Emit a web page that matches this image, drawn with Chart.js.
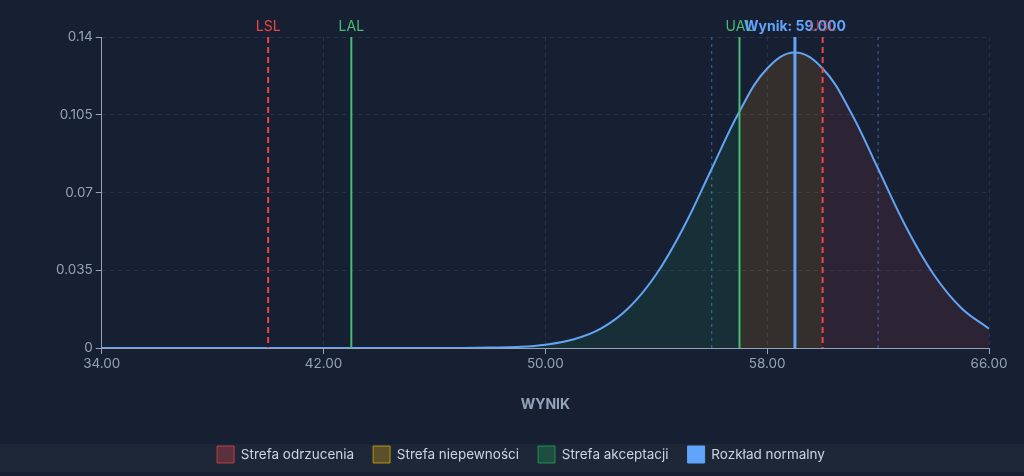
<!DOCTYPE html>
<html>
<head>
<meta charset="utf-8">
<script src="https://cdn.jsdelivr.net/npm/chart.js@4.4.1/dist/chart.umd.min.js"></script>
<style>
  html, body { margin: 0; padding: 0; background: #172033; }
  #wrap { position: relative; width: 1024px; height: 476px; }
  #strip { position: absolute; left: 0; top: 444px; width: 1024px; height: 28px; background: #1d2738; }
  #chart { position: absolute; left: 0; top: 0; }
</style>
</head>
<body>
<div id="wrap">
  <div id="strip"></div>
  <canvas id="chart" width="1024" height="476"></canvas>
</div>
<script>
// x values (Wynik) and the density
const xValues = [34, 35, 36, 37, 38, 39, 40, 41, 42, 43, 44, 45, 46, 47, 48, 49, 50,
  51, 52, 53, 54, 55, 56, 57, 58, 59, 60, 61, 62, 63, 64, 65, 66];
const density = [0, 0, 0, 0, 0, 0, 0, 0, 0, 0, 0, 0, 0, 0.00004, 0.0002, 0.0005, 0.0015,
  0.0038, 0.0087, 0.018, 0.0332, 0.0547, 0.0807, 0.1065, 0.1258, 0.133, 0.1258,
  0.1065, 0.0807, 0.0547, 0.0332, 0.018, 0.0087];

const limitLabels = ['LSL', 'LAL', 'UAL', 'USL'];
const limitValues = [40, 43, 57, 60];
const resultValue = 59;
const sigmaLines = [56, 62];

const xTicks = [34, 42, 50, 58, 66];
const yTicks = [0, 0.035, 0.07, 0.105, 0.14];

const seriesNames = ['Strefa odrzucenia', 'Strefa niepewności', 'Strefa akceptacji', 'Rozkład normalny'];

const [LSL, LAL, UAL, USL] = limitValues;
const pts = xValues.map((x, i) => ({ x: x, y: density[i] }));
const inRange = (a, b) => pts.filter(p => p.x >= a && p.x <= b);

const rejectData = [...inRange(34, LSL), { x: (LSL + USL) / 2, y: null }, ...inRange(USL, 66)];
const uncertData = [...inRange(LSL, LAL), { x: (LAL + UAL) / 2, y: null }, ...inRange(UAL, USL)];
const acceptData = inRange(LAL, UAL);

const legendFill = ['rgba(239,68,68,0.3)', 'rgba(234,179,8,0.3)', 'rgba(34,197,94,0.25)', '#60a5fa'];
const legendStroke = ['rgba(239,68,68,0.7)', 'rgba(234,179,8,0.7)', 'rgba(34,197,94,0.6)', '#60a5fa'];

Chart.defaults.font.family = 'Inter, "Noto Sans", sans-serif';
Chart.defaults.color = '#94a3b8';

const markers = {
  id: 'markers',
  afterDatasetsDraw(chart) {
    const { ctx, chartArea, scales } = chart;
    const top = chartArea.top, bottom = chartArea.bottom;
    const line = (v, color, width, dash) => {
      const px = scales.x.getPixelForValue(v);
      ctx.save();
      ctx.strokeStyle = color;
      ctx.lineWidth = width;
      ctx.setLineDash(dash);
      ctx.beginPath();
      ctx.moveTo(px, top);
      ctx.lineTo(px, bottom);
      ctx.stroke();
      ctx.restore();
      return px;
    };
    const label = (txt, px, color, font) => {
      ctx.save();
      ctx.fillStyle = color;
      ctx.font = font;
      ctx.textAlign = 'center';
      ctx.textBaseline = 'middle';
      ctx.fillText(txt, px, top - 10);
      ctx.restore();
    };
    sigmaLines.forEach(v => line(v, 'rgba(96,165,250,0.55)', 1, [3, 4]));
    limitValues.forEach((v, i) => {
      const red = i === 0 || i === 3;
      const px = line(v, red ? '#ef4444' : '#48bb78', 2, red ? [6, 4] : []);
      if (i < 3) label(limitLabels[i], px, red ? '#ef4444' : '#48bb78', '14px Inter, sans-serif');
    });
    const rx = line(resultValue, '#60a5fa', 3, []);
    label('Wynik: ' + resultValue.toFixed(3), rx, '#60a5fa', 'bold 14px Inter, sans-serif');
    label(limitLabels[3], scales.x.getPixelForValue(USL), 'rgba(239,68,68,0.6)', '14px Inter, sans-serif');
  }
};

const zone = (name, data, color) => ({
  label: name,
  data: data,
  borderWidth: 0,
  borderColor: 'transparent',
  backgroundColor: color,
  pointRadius: 0,
  fill: 'origin',
  tension: 0.4
});

new Chart(document.getElementById('chart'), {
  type: 'line',
  data: {
    datasets: [
      zone(seriesNames[0], rejectData, 'rgba(239,68,68,0.1)'),
      zone(seriesNames[1], uncertData, 'rgba(245,158,11,0.13)'),
      zone(seriesNames[2], acceptData, 'rgba(34,197,94,0.1)'),
      {
        label: seriesNames[3],
        data: pts,
        borderColor: '#63a4f4',
        backgroundColor: '#60a5fa',
        borderWidth: 2,
        pointRadius: 0,
        fill: false,
        tension: 0.4
      }
    ]
  },
  options: {
    responsive: false,
    animation: false,
    layout: { padding: { top: 37, right: 35, left: 53, bottom: 3 } },
    plugins: {
      filler: { drawTime: 'beforeDatasetsDraw' },
      tooltip: { enabled: false },
      legend: {
        position: 'bottom',
        labels: {
          color: '#cbd5e1',
          font: { size: 13.5 },
          boxWidth: 17,
          boxHeight: 17,
          padding: 19,
          generateLabels(chart) {
            return Chart.defaults.plugins.legend.labels.generateLabels(chart).map((l, i) => ({
              ...l, fillStyle: legendFill[i], strokeStyle: legendStroke[i], lineWidth: 1
            }));
          }
        }
      }
    },
    scales: {
      x: {
        type: 'linear',
        min: 34,
        max: 66,
        afterBuildTicks(axis) { axis.ticks = xTicks.map(v => ({ value: v })); },
        ticks: { color: '#94a3b8', font: { size: 13.5 }, maxRotation: 0, padding: 2, callback: v => v.toFixed(2) },
        grid: { color: 'rgba(148,163,184,0.14)', tickColor: '#94a3b8', tickLength: 6 },
        border: { color: '#94a3b8', dash: [4, 4] },
        title: { display: true, text: 'WYNIK', color: '#94a3b8', font: { size: 14, weight: 'bold' }, padding: { top: 22, bottom: 14 } }
      },
      y: {
        min: 0,
        max: 0.14,
        afterBuildTicks(axis) { axis.ticks = yTicks.map(v => ({ value: v })); },
        ticks: { color: '#94a3b8', font: { size: 13.5 }, padding: 3, callback: v => String(v) },
        grid: { color: 'rgba(148,163,184,0.14)', tickColor: '#94a3b8', tickLength: 6 },
        border: { color: '#94a3b8', dash: [4, 4] }
      }
    }
  },
  plugins: [markers]
});
</script>
</body>
</html>
